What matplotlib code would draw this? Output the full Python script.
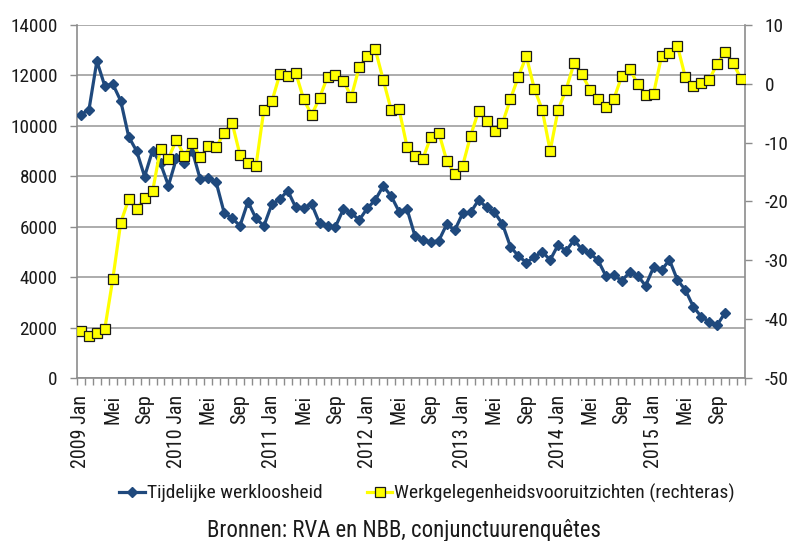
import matplotlib
matplotlib.use("Agg")
import matplotlib.pyplot as plt
from matplotlib import font_manager as fm
import numpy as np

# ---- data ----
werkloosheid = [
    10450, 10630, 12570, 11580, 11660, 10990, 9570, 9000, 7990, 9020, 8510, 7630,   # 2009
    8710, 8540, 9000, 7880, 7920, 7760, 6560, 6330, 6040, 6990, 6330, 6030,         # 2010
    6890, 7090, 7430, 6770, 6760, 6900, 6140, 6030, 6000, 6700, 6530, 6270,         # 2011
    6730, 7060, 7610, 7220, 6600, 6700, 5630, 5470, 5380, 5450, 6100, 5860,         # 2012
    6530, 6570, 7060, 6770, 6570, 6110, 5210, 4840, 4580, 4790, 5010, 4680,         # 2013
    5280, 5040, 5470, 5100, 4940, 4680, 4050, 4080, 3860, 4190, 4060, 3660,         # 2014
    4390, 4280, 4680, 3890, 3490, 2830, 2430, 2230, 2100, 2590,                     # 2015 (t/m okt)
]
vooruitzichten = [
    -42.0, -42.9, -42.4, -41.6, -33.2, -23.6, -19.6, -21.3, -19.4, -18.3, -11.0, -12.7,  # 2009
    -9.5, -12.3, -10.0, -12.5, -10.6, -10.8, -8.3, -6.6, -12.1, -13.4, -14.0, -4.4,      # 2010
    -3.0, 1.6, 1.3, 1.9, -2.6, -5.3, -2.4, 1.2, 1.5, 0.5, -2.2, 2.9,                      # 2011
    4.7, 5.9, 0.7, -4.4, -4.3, -10.7, -12.3, -12.7, -9.0, -8.3, -13.1, -15.3,            # 2012
    -13.9, -8.8, -4.6, -6.3, -8.0, -6.7, -2.6, 1.2, 4.7, -0.8, -4.4, -11.4,              # 2013
    -4.4, -1.0, 3.5, 1.6, -1.0, -2.6, -4.0, -2.6, 1.3, 2.5, 0.0, -1.9,                   # 2014
    -1.7, 4.7, 5.2, 6.5, 1.1, -0.4, 0.2, 0.7, 3.4, 5.4, 3.5, 0.9,                        # 2015
]
years = [2009, 2010, 2011, 2012, 2013, 2014, 2015]
months_shown = ["Jan", "Mei", "Sep"]
left_ticks = [0, 2000, 4000, 6000, 8000, 10000, 12000, 14000]
right_ticks = [-50, -40, -30, -20, -10, 0, 10]
label_blue = "Tijdelijke werkloosheid"
label_yellow = "Werkgelegenheidsvooruitzichten (rechteras)"
source = "Bronnen: RVA en NBB, conjunctuurenquêtes"

# ---- font ----
avail = {f.name for f in fm.fontManager.ttflist}
fam = "Liberation Sans"
for cand in ["Liberation Sans Narrow", "Roboto Condensed", "Archivo Narrow", "PT Sans Narrow", "Pragati Narrow"]:
    if cand in avail:
        fam = cand
        break
plt.rcParams["font.family"] = [fam, "DejaVu Sans"]
plt.rcParams["font.size"] = 14

n_months = 12 * len(years)
x_all = np.arange(n_months)

fig = plt.figure(figsize=(7.91, 5.41), dpi=100)
ax = fig.add_axes([77 / 791, 1 - 378 / 541, (745 - 77) / 791, (378 - 25) / 541])
ax2 = ax.twinx()

grey = "#8c8c8c"
txt = "#1a1a1a"

ax.set_ylim(0, 14000)
ax.set_yticks(left_ticks)
ax.set_yticklabels([str(v) for v in left_ticks])
ax.yaxis.grid(True, color="#a6a6a6", lw=1.3)
ax.set_axisbelow(True)
ax.set_xlim(-0.5, n_months - 0.5)

# x ticks: labels every 4 months, minor ticks at each month boundary
lab_pos = list(range(0, n_months, 4))
labels = []
for p in lab_pos:
    y = years[p // 12]
    m = months_shown[(p % 12) // 4]
    labels.append(f"{y} {m}" if m == "Jan" else m)
ax.set_xticks(lab_pos)
ax.set_xticklabels(labels, rotation=90, va="top", ha="center")
ax.set_xticks(np.arange(-0.5, n_months, 1), minor=True)
ax.tick_params(axis="x", which="major", length=0, pad=12, colors=txt, labelsize=14.5)
ax.tick_params(axis="x", which="minor", length=5, width=1, color=grey, direction="out")
ax.tick_params(axis="y", which="major", length=5, width=1, color=grey, labelcolor=txt, labelsize=13.8, pad=9)

for s in ["top", "right"]:
    ax.spines[s].set_visible(False)
ax.spines["left"].set_color(grey)
ax.spines["bottom"].set_color(grey)
ax.spines["left"].set_linewidth(1.2)
ax.spines["bottom"].set_linewidth(1.2)

ax2.set_ylim(-50, 10)
ax2.set_yticks(right_ticks)
ax2.set_yticklabels([str(v) for v in right_ticks])
ax2.tick_params(axis="y", length=5, width=1, color=grey, labelcolor=txt, labelsize=13.8, pad=9)
for s in ["top", "left", "bottom"]:
    ax2.spines[s].set_visible(False)
ax2.spines["right"].set_color(grey)
ax2.spines["right"].set_linewidth(1.2)

blue = "#1f497d"
l1, = ax.plot(x_all[:len(werkloosheid)], werkloosheid, color=blue, lw=2.3,
              marker="D", markersize=5, markerfacecolor=blue, markeredgecolor=blue,
              label=label_blue, zorder=3)
l2, = ax2.plot(x_all[:len(vooruitzichten)], vooruitzichten, color="#ffff00", lw=2.3,
               marker="s", markersize=7, markerfacecolor="#ffff00", markeredgecolor="#1a1a1a",
               markeredgewidth=0.9, label=label_yellow, zorder=4)

fig.legend(handles=[l1, l2], loc="center", bbox_to_anchor=(0.54, 1 - 493 / 541),
           ncol=2, frameon=False, fontsize=14, handlelength=1.3, handletextpad=0.1,
           columnspacing=2.3, labelcolor=txt)
fig.text(0.511, 1 - 530 / 541, source, ha="center", va="center", fontsize=16.4, color=txt)

fig.savefig("out.png", dpi=100)
